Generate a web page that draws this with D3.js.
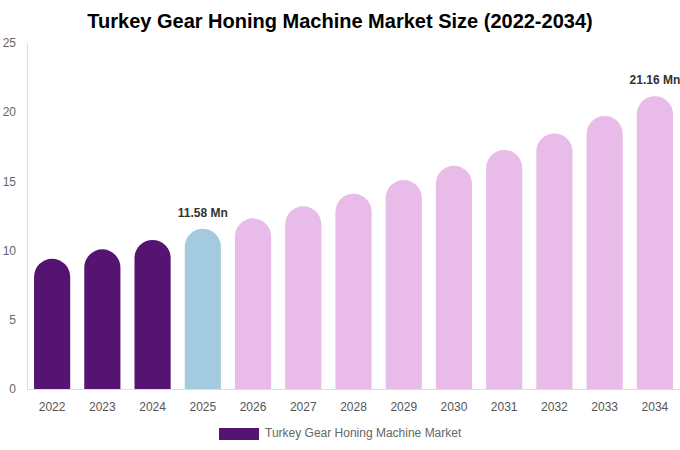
<!DOCTYPE html>
<html>
<head>
<meta charset="utf-8">
<script src="https://cdn.jsdelivr.net/npm/d3@7"></script>
<style>
  body { margin: 0; background: #fff; }
  text { font-family: "Liberation Sans", Arial, sans-serif; }
</style>
</head>
<body>
<div id="vis"></div>
<script>
var w = 680, h = 450;

var years = ["2022","2023","2024","2025","2026","2027","2028","2029","2030","2031","2032","2033","2034"];
var values = [9.41, 10.09, 10.77, 11.58, 12.33, 13.2, 14.11, 15.1, 16.13, 17.27, 18.47, 19.73, 21.16];
var yTicks = [0, 5, 10, 15, 20, 25];
var labelled = {"2025": "11.58 Mn", "2034": "21.16 Mn"};

var colorOf = function(i) { return i < 3 ? "#561472" : (i === 3 ? "#a4cadf" : "#e8bbe8"); };

var svg = d3.select("div#vis").append("svg")
  .attr("width", w)
  .attr("height", h);

var x = d3.scaleBand().domain(years).range([27, 680]).paddingInner(0.28).paddingOuter(0.14);
var y = d3.scaleLinear().domain([0, 25]).range([389, 43]);

svg.append("text")
  .attr("x", 340).attr("y", 28)
  .attr("text-anchor", "middle")
  .style("font-size", "20px").style("font-weight", "bold").style("fill", "#000")
  .text("Turkey Gear Honing Machine Market Size (2022-2034)");

// axes lines
svg.append("line").attr("x1", 27.5).attr("x2", 27.5).attr("y1", y(25)).attr("y2", y(0))
  .style("stroke", "#ddd");
svg.append("line").attr("x1", 27).attr("x2", 680).attr("y1", y(0) + 0.5).attr("y2", y(0) + 0.5)
  .style("stroke", "#ddd");

svg.selectAll("text.ytick").data(yTicks).enter().append("text")
  .attr("class", "ytick")
  .attr("x", 16).attr("y", function(d) { return y(d); })
  .attr("dy", "0.35em")
  .attr("text-anchor", "end")
  .style("font-size", "12px").style("fill", "#666")
  .text(function(d) { return d; });

// bars with rounded tops
var bw = x.bandwidth(), r = bw / 2;
svg.selectAll("path.bar").data(values).enter().append("path")
  .attr("class", "bar")
  .attr("d", function(d, i) {
    var x0 = x(years[i]), top = y(d), base = y(0);
    return "M" + x0 + "," + base +
      "V" + (top + r) +
      "A" + r + "," + r + " 0 0 1 " + (x0 + bw) + "," + (top + r) +
      "V" + base + "Z";
  })
  .style("fill", function(d, i) { return colorOf(i); });

svg.selectAll("text.xtick").data(years).enter().append("text")
  .attr("class", "xtick")
  .attr("x", function(d) { return x(d) + bw / 2; })
  .attr("y", 411)
  .attr("text-anchor", "middle")
  .style("font-size", "12px").style("fill", "#555")
  .text(function(d) { return d; });

svg.selectAll("text.val").data(values.filter(function(d, i) { return labelled[years[i]]; }))
  .enter().append("text")
  .attr("class", "val")
  .attr("x", function(d) { var i = values.indexOf(d); return x(years[i]) + bw / 2; })
  .attr("y", function(d) { return y(d) - 12; })
  .attr("text-anchor", "middle")
  .style("font-size", "12px").style("font-weight", "bold").style("fill", "#333")
  .text(function(d) { return labelled[years[values.indexOf(d)]]; });

// legend
svg.append("rect").attr("x", 219).attr("y", 428).attr("width", 40).attr("height", 12)
  .style("fill", "#561472");
svg.append("text").attr("x", 265).attr("y", 437)
  .style("font-size", "12px").style("fill", "#666")
  .text("Turkey Gear Honing Machine Market");
</script>
</body>
</html>
